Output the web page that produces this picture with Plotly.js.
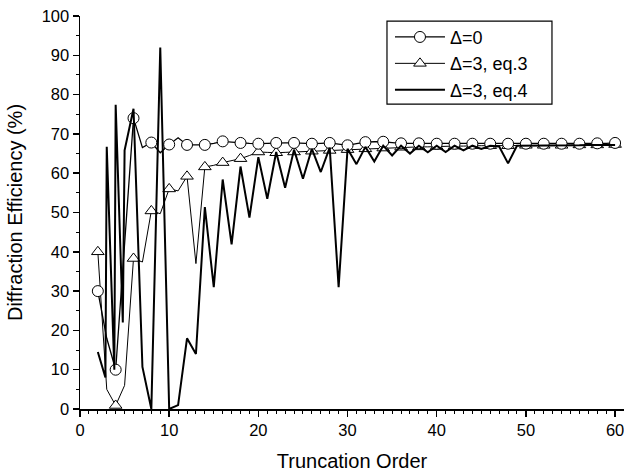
<!DOCTYPE html>
<html>
<head>
<meta charset="utf-8">
<script src="https://cdn.plot.ly/plotly-3.0.1.min.js"></script>
<style>html,body{margin:0;padding:0;background:#fff;}#chart{width:624px;height:475px;}</style>
</head>
<body>
<div id="chart"></div>
<script>
// Truncation orders
const orders = [];
for (let n = 2; n <= 60; n++) orders.push(n);

// Δ=0 (circles), values at orders 2..60
const delta0 = [30, 18, 10, 42, 74, 66.5, 67.8, 65.2, 67.3, 69, 67.2, 67.2, 67.2, 67.6, 68.1, 67.9, 67.7, 67.6, 67.5, 67.6,
  67.7, 67.7, 67.7, 67.6, 67.5, 67.6, 67.7, 67.4, 67.1, 67.5, 67.9, 68, 68, 67.8, 67.6, 67.6, 67.6, 67.5, 67.5, 67.5,
  67.5, 67.5, 67.5, 67.5, 67.5, 67.5, 67.5, 67.5, 67.5, 67.5, 67.5, 67.5, 67.5, 67.5, 67.5, 67.5, 67.6, 67.6, 67.7];

// Δ=3, eq.3 (triangles)
const delta3eq3 = [40, 5, 0.9, 6, 38.3, 37.4, 50.4, 49.7, 56, 55.5, 59.2, 37, 61.6, 62, 62.7, 63.2, 63.7, 64.5, 65.4, 65.3,
  65.2, 65.3, 65.4, 65.5, 65.6, 65.7, 65.8, 65.9, 66, 66.1, 66.2, 66.3, 66.4, 66.5, 66.6, 66.6, 66.7, 66.7, 66.8, 66.8,
  66.9, 66.9, 67, 67, 67, 67, 67, 67, 67.1, 67.1, 67.1, 67.1, 67.1, 67.2, 67.2, 67.2, 67.2, 67.2, 67.3];

// Δ=3, eq.4 (thick line) – read positions along the order axis and values
const eq4Orders = [2, 2.85, 3, 3.85, 4, 4.8, 5, 6, 7, 8, 9, 10, 11, 12, 13, 14, 15, 16, 17, 18, 19, 20,
  21, 22, 23, 24, 25, 26, 27, 28, 29, 30, 31, 32, 33, 34, 35, 36, 37, 38, 39, 40,
  41, 42, 43, 44, 45, 46, 47, 48, 49, 50, 51, 52, 53, 54, 55, 56, 57, 58, 59, 60];
const delta3eq4 = [14.5, 8, 66.7, 10, 77.4, 22, 65.8, 76.4, 10.7, 0, 92, 0, 1, 18, 14, 51.4, 31, 58.4, 41.9, 61.7, 48.7, 64.1,
  53.5, 65.4, 56.3, 66, 58.6, 66.2, 60.3, 66.5, 31, 66.2, 62.3, 66.7, 63, 67, 64.5, 67, 65, 67, 65.3, 67,
  65.4, 67, 65.8, 67, 66.2, 67, 66.8, 62.5, 67, 67, 67, 67, 67.1, 67.1, 67.1, 67.1, 67.2, 67.2, 67.2, 67.2];

const xTickVals = [0, 10, 20, 30, 40, 50, 60];
const yTickVals = [0, 10, 20, 30, 40, 50, 60, 70, 80, 90, 100];
const legendNames = ['\u0394=0', '\u0394=3, eq.3', '\u0394=3, eq.4'];

const evenIdx = orders.map((o, i) => i).filter(i => orders[i] % 2 === 0);
const pick = (arr) => evenIdx.map(i => arr[i]);

const traces = [
  {x: orders, y: delta3eq3, mode: 'lines', line: {color: '#000', width: 1}, showlegend: false},
  {x: pick(orders), y: pick(delta3eq3), mode: 'markers', showlegend: false,
   marker: {symbol: 'triangle-up', size: 11, color: '#fff', line: {color: '#000', width: 1}}},
  {x: orders, y: delta0, mode: 'lines', line: {color: '#000', width: 1.3}, showlegend: false},
  {x: pick(orders), y: pick(delta0), mode: 'markers', showlegend: false,
   marker: {symbol: 'circle', size: 11, color: '#fff', line: {color: '#000', width: 1}}},
  {x: eq4Orders, y: delta3eq4, mode: 'lines', line: {color: '#000', width: 2}, showlegend: false},
  {x: [null], y: [null], name: legendNames[0], mode: 'lines+markers', line: {color: '#000', width: 1.3},
   marker: {symbol: 'circle', size: 11, color: '#fff', line: {color: '#000', width: 1}}},
  {x: [null], y: [null], name: legendNames[1], mode: 'lines+markers', line: {color: '#000', width: 1},
   marker: {symbol: 'triangle-up', size: 11, color: '#fff', line: {color: '#000', width: 1}}},
  {x: [null], y: [null], name: legendNames[2], mode: 'lines', line: {color: '#000', width: 2}}
];

const font = 'Liberation Sans, Arial, sans-serif';
const layout = {
  width: 624, height: 475,
  margin: {l: 80, r: 0, t: 16, b: 66},
  paper_bgcolor: '#fff', plot_bgcolor: '#fff',
  font: {family: font, color: '#000', size: 16},
  showlegend: true,
  legend: {x: 0.5698, y: 0.993, xanchor: 'left', yanchor: 'top', borderwidth: 0,
           bgcolor: 'rgba(0,0,0,0)', font: {size: 18, family: font}, itemwidth: 50, tracegroupgap: 0},
  shapes: [{type: 'rect', xref: 'paper', yref: 'paper', x0: 0.5643, x1: 0.8676, y0: 0.776, y1: 0.987,
            line: {color: '#000', width: 1.2}, fillcolor: 'rgba(0,0,0,0)', layer: 'above'}],
  xaxis: {range: [0, 61], tickvals: xTickVals, ticks: 'outside', ticklen: 6, tickwidth: 1.5, tickcolor: '#000',
          showline: true, linecolor: '#000', linewidth: 1.5, showgrid: false, zeroline: false, ticklabeloverflow: 'allow',
          minor: {dtick: 1, ticks: 'outside', ticklen: 3, tickwidth: 1, tickcolor: '#000', showgrid: false},
          tickfont: {size: 16.5}, title: {text: 'Truncation Order', font: {size: 20}, standoff: 15}},
  yaxis: {range: [0, 100], tickvals: yTickVals, ticks: 'outside', ticklen: 6, tickwidth: 1.5, tickcolor: '#000',
          showline: true, linecolor: '#000', linewidth: 1.5, showgrid: false, zeroline: false,
          minor: {dtick: 5, ticks: 'outside', ticklen: 3, tickwidth: 1, tickcolor: '#000', showgrid: false},
          tickfont: {size: 16.5}, title: {text: 'Diffraction Efficiency (%)', font: {size: 20}, standoff: 13}}
};

Plotly.newPlot('chart', traces, layout, {displayModeBar: false, staticPlot: true});
</script>
</body>
</html>
